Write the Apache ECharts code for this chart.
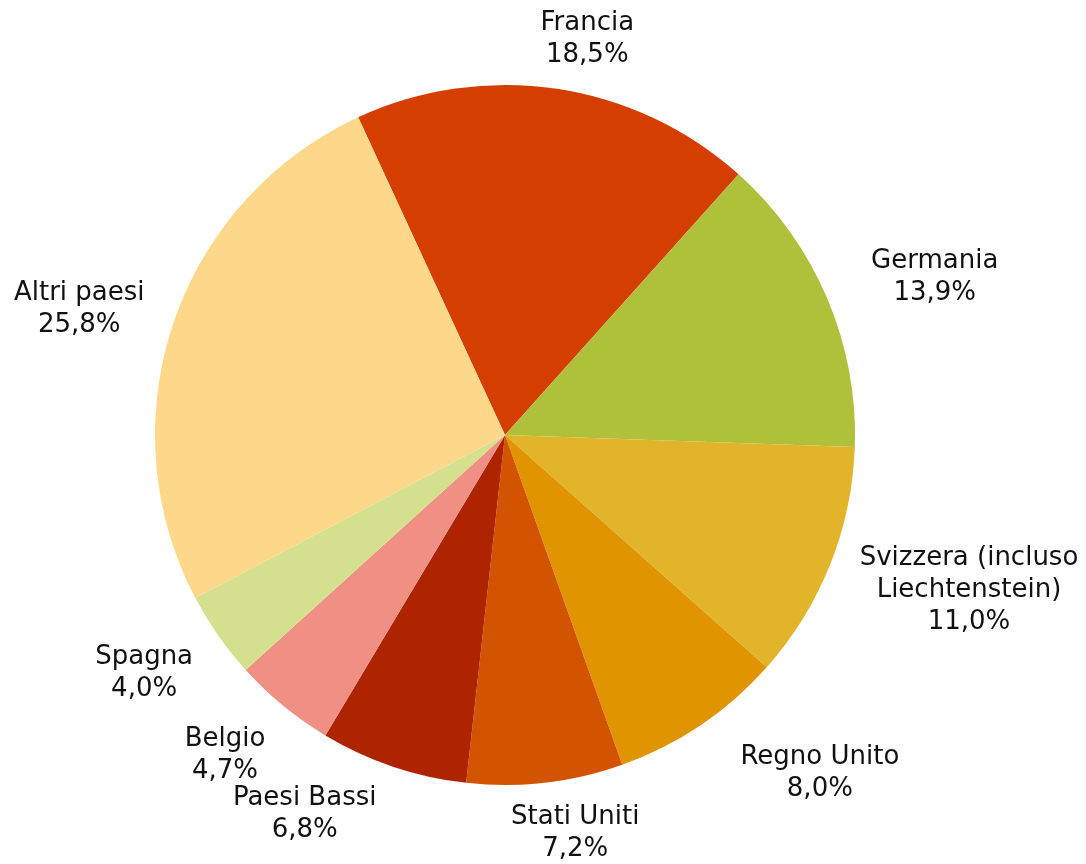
<!DOCTYPE html>
<html>
<head>
<meta charset="utf-8">
<script src="https://cdn.jsdelivr.net/npm/echarts@6/dist/echarts.min.js"></script>
<style>
  html, body { margin: 0; padding: 0; background: #fff; }
  #chart { width: 1086px; height: 864px; }
</style>
</head>
<body>
<div id="chart"></div>
<script>
// paesi, in senso orario a partire da Francia
const countries = [
  'Francia', 'Germania', 'Svizzera (incluso\nLiechtenstein)', 'Regno Unito',
  'Stati Uniti', 'Paesi Bassi', 'Belgio', 'Spagna', 'Altri paesi'
];
const shares = [18.5, 13.9, 11.0, 8.0, 7.2, 6.8, 4.7, 4.0, 25.8];
const colors = [
  '#D43F00', '#AFC03B', '#E2B429', '#E09400',
  '#D35400', '#AF2400', '#F08F84', '#D5E08E', '#FDD88A'
];
// label tweaks like the original: angle nudge (deg) and extra distance (px)
const labelNudge = [3.2, 2.9, -3.3, -9, -3.4, 9.2, 1.8, 1.6, -2.2];
const labelPush = [0, 18, 2, 46, 0, 21, 11, 2, 4];

const center = [505, 435];
const radius = 350;
const startAngle = 114.8;   // echarts: ccw from 3 o'clock
const labelGap = 372;

const total = shares.reduce((a, b) => a + b, 0);

function midAngle(i) {
  // clockwise from 12 o'clock, degrees
  let cum = 0;
  for (let k = 0; k < i; k++) cum += shares[k];
  return (90 - startAngle) + (cum + shares[i] / 2) / total * 360;
}

const chart = echarts.init(document.getElementById('chart'));

chart.setOption({
  animation: false,
  series: [{
    type: 'pie',
    center: center,
    radius: radius,
    startAngle: startAngle,
    clockwise: true,
    avoidLabelOverlap: false,
    data: countries.map((name, i) => ({
      name: name,
      value: shares[i],
      itemStyle: { color: colors[i] }
    })),
    label: {
      show: true,
      position: 'outside',
      fontFamily: 'DejaVu Sans',
      fontSize: 26,
      lineHeight: 32,
      color: '#111',
      align: 'center',
      formatter: p => p.name + '\n' + p.value.toFixed(1).replace('.', ',') + '%'
    },
    labelLine: { show: false },
    labelLayout: function (params) {
      const i = params.dataIndex;
      const w = params.labelRect.width;
      const h = params.labelRect.height;
      const a = (midAngle(i) + labelNudge[i]) * Math.PI / 180;
      const ux = Math.sin(a), uy = -Math.cos(a);
      const edge = Math.min(
        Math.abs(ux) > 1e-6 ? w / 2 / Math.abs(ux) : Infinity,
        Math.abs(uy) > 1e-6 ? h / 2 / Math.abs(uy) : Infinity
      );
      const d = labelGap + labelPush[i] + edge;
      return {
        x: center[0] + ux * d,
        y: center[1] + uy * d,
        align: 'center',
        verticalAlign: 'middle'
      };
    },
    emphasis: { disabled: true }
  }]
});

window.addEventListener('resize', () => chart.resize());
</script>
</body>
</html>
